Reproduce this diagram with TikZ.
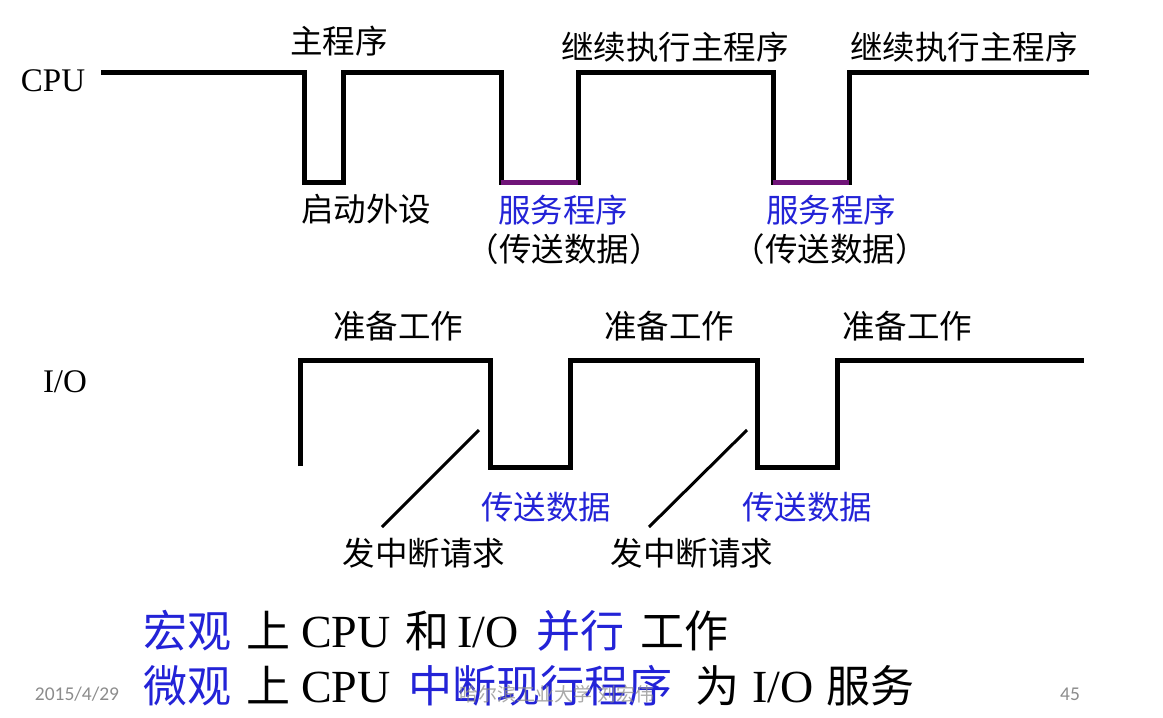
\documentclass[tikz,border=0pt]{standalone}
\usepackage{fontspec}
\setmainfont{Liberation Serif}
\newfontfamily\cjk{Noto Sans CJK SC}
\newfontfamily\footfont{Carlito}
\definecolor{labelblue}{RGB}{35,35,215}
\definecolor{servpurple}{RGB}{112,20,120}
\definecolor{footgray}{RGB}{140,140,140}
\newcommand\zh[1]{{\cjk\fontsize{44}{50}\selectfont #1}}

\begin{document}
\begin{tikzpicture}[x=1pt,y=-1pt,
  wave/.style={line width=5pt, line join=miter, line cap=butt},
  service/.style={line width=5pt, draw=servpurple},
  pointer/.style={line width=3pt},
  lbl/.style={inner sep=0pt, font=\cjk\fontsize{32.5}{38}\selectfont},
  bluelbl/.style={lbl, text=labelblue},
  sig/.style={inner sep=0pt, font=\fontsize{33}{38}\selectfont},
  summary/.style={inner sep=0pt, anchor=west, font=\fontsize{46}{50}\selectfont},
  foot/.style={inner sep=0pt, text=footgray, font=\footfont\fontsize{19.5}{22}\selectfont}
]
\useasboundingbox (0,0) rectangle (1163,718);

% signal names
\node[sig] (cpu) at (53,81) {CPU};
\node[sig] (io) at (65,382) {I/O};

% CPU activity
\draw[wave] (101,72) -- (304,72) -- (304,182) -- (343,182) -- (343,72)
  -- (501,72) -- (501,182) -- (578,182) -- (578,72)
  -- (773,72) -- (773,182) -- (849,182) -- (849,72) -- (1089,72);
\draw[service] (501,182) -- (578,182);
\draw[service] (773,182) -- (849,182);

\node[lbl] (main) at (339,41) {主程序};
\node[lbl] (cont1) at (675,47) {继续执行主程序};
\node[lbl] (cont2) at (964,47) {继续执行主程序};
\node[lbl] (start) at (366,209) {启动外设};
\node[bluelbl] (srv1) at (563,210) {服务程序};
\node[lbl] (xfer1) at (564,249) {（传送数据）};
\node[bluelbl] (srv2) at (831,210) {服务程序};
\node[lbl] (xfer2) at (830,249) {（传送数据）};

% I/O activity
\draw[wave] (300,466) -- (300,360) -- (490,360) -- (490,467) -- (570,467) -- (570,360)
  -- (757,360) -- (757,467) -- (837,467) -- (837,360) -- (1084,360);

\node[lbl] (prep1) at (398,326) {准备工作};
\node[lbl] (prep2) at (669,326) {准备工作};
\node[lbl] (prep3) at (907,326) {准备工作};
\node[bluelbl] (data1) at (546,507) {传送数据};
\node[bluelbl] (data2) at (807,507) {传送数据};
\node[lbl] (irq1) at (424,553) {发中断请求};
\node[lbl] (irq2) at (692,553) {发中断请求};

% interrupt request pointers
\coordinate (edge1) at (479,430);
\coordinate (edge2) at (747,430);
\coordinate (tail1) at (382,527);
\coordinate (tail2) at (649,527);
\draw[pointer] (tail1) -- (edge1);
\draw[pointer] (tail2) -- (edge2);

% summary lines
\node[summary] (macro) at (143,631) {\zh{\color{labelblue}宏观}\hspace{15pt}\zh{上}\hspace{11pt}CPU\hspace{14.5pt}\zh{和}\hspace{8pt}I/O\hspace{18pt}\zh{\color{labelblue}并行}\hspace{16pt}\zh{工作}};
\node[summary] (micro) at (143,686) {\zh{\color{labelblue}微观}\hspace{15pt}\zh{上}\hspace{11pt}CPU\hspace{17.5pt}\zh{\color{labelblue}中断现行程序}\hspace{23pt}\zh{为}\hspace{13pt}I/O\hspace{13pt}\zh{服务}};

% footer
\node[foot] (date) at (77,694) {2015/4/29};
\node[foot] (page) at (1070,694) {45};
\node[foot, font=\cjk\fontsize{19}{22}\selectfont, opacity=0.75] (mark) at (557,694) {哈尔滨工业大学 刘宏伟};
\end{tikzpicture}
\end{document}
